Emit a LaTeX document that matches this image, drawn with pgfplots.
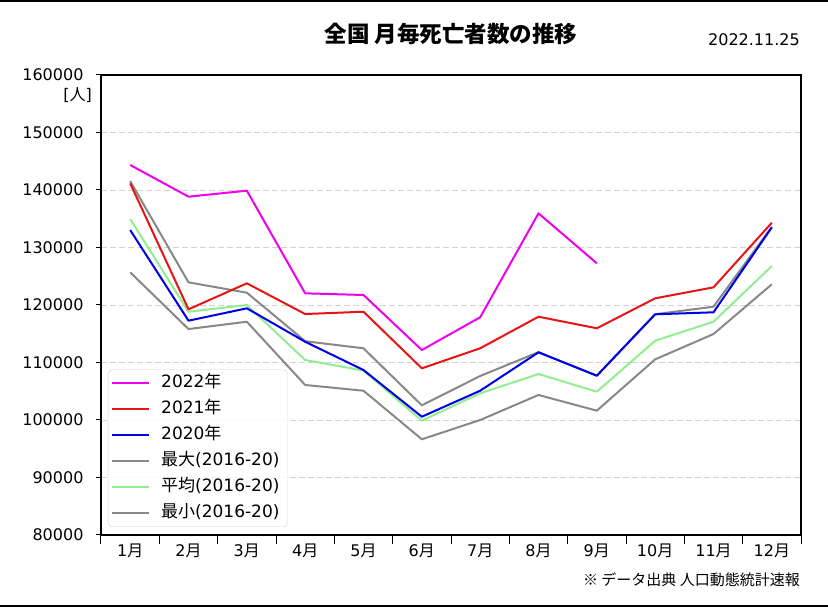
\documentclass[border=0pt]{standalone}
\usepackage{pgfplots}
\pgfplotsset{compat=1.18}
\usepackage{fontspec}
\setmainfont{DejaVu Sans}
\newfontfamily\jp{Noto Sans CJK JP}
\definecolor{cmag}{RGB}{238,0,238}
\definecolor{cred}{RGB}{230,20,20}
\definecolor{cblue}{RGB}{0,0,230}
\definecolor{cgray}{RGB}{136,136,136}
\definecolor{cgreen}{RGB}{144,238,144}
\definecolor{cgrid}{RGB}{210,210,210}
\begin{document}
\begin{tikzpicture}
\path[use as bounding box] (0,0) rectangle (828pt,608pt);
\draw[line width=2pt] (0,607pt) -- (828pt,607pt);
\draw[line width=2pt] (0,1.5pt) -- (828pt,1.5pt);
\begin{axis}[
  at={(101pt,73pt)}, anchor=south west,
  scale only axis, width=700pt, height=460pt,
  xmin=0.5, xmax=12.5, ymin=80000, ymax=160000,
  axis line style={line width=1.3pt},
  xtick={1,...,12},
  xticklabels={1{\jp 月},2{\jp 月},3{\jp 月},4{\jp 月},5{\jp 月},6{\jp 月},7{\jp 月},8{\jp 月},9{\jp 月},10{\jp 月},11{\jp 月},12{\jp 月}},
  minor xtick={0.5,1.5,...,12.5},
  ytick={80000,90000,...,160000},
  tick align=outside,
  x tick style={draw=none},
  minor x tick style={draw=black, line width=1pt},
  minor tick length=9pt,
  y tick style={line width=1pt, black},
  major tick length=5pt,
  xtick pos=bottom, ytick pos=left,
  ymajorgrids, grid style={cgrid, dashed, line width=0.8pt, dash pattern=on 6pt off 3pt},
  /pgf/number format/assume math mode=true,
  /pgf/number format/fixed,
  /pgf/number format/precision=0,
  /pgf/number format/1000 sep={},
  scaled y ticks=false,
  ticklabel style={font=\fontsize{16}{19}\selectfont},
  yticklabel style={xshift=-9pt},
  every tick label/.append style={black},
  legend style={at={(0.01,0.0174)}, anchor=south west, draw=black!18, rounded corners=4pt,
    fill=white, fill opacity=0.85, text opacity=1, font=\fontsize{17}{20}\selectfont,
    inner xsep=3pt, inner ysep=2pt, row sep=3pt,
    nodes={text height=12pt, text depth=3pt, inner ysep=4pt, inner xsep=5pt}},
  legend cell align=left,
  legend image code/.code={\draw[#1, line width=2pt] (0pt,0pt) -- (37pt,0pt); \path (43pt,0pt);},
  reverse legend,
  every axis plot/.append style={line width=2pt, line join=round},
]
\addplot[cgray] coordinates {(1,125680) (2,115820) (3,117090) (4,106090) (5,105090) (6,96640) (7,100000) (8,104350) (9,101620) (10,110550) (11,114950) (12,123600)};
\addlegendentry{{\jp 最小}(2016-20)}
\addplot[cgreen] coordinates {(1,134950) (2,118830) (3,120000) (4,110430) (5,108600) (6,99880) (7,104640) (8,108000) (9,104920) (10,113790) (11,117090) (12,126780)};
\addlegendentry{{\jp 平均}(2016-20)}
\addplot[cgray] coordinates {(1,141560) (2,123940) (3,122140) (4,113700) (5,112470) (6,102550) (7,107650) (8,111800) (9,107700) (10,118400) (11,119700) (12,133600)};
\addlegendentry{{\jp 最大}(2016-20)}
\addplot[cblue] coordinates {(1,133040) (2,117270) (3,119420) (4,113610) (5,108690) (6,100570) (7,105090) (8,111770) (9,107700) (10,118380) (11,118730) (12,133510)};
\addlegendentry{2020{\jp 年}}
\addplot[cred] coordinates {(1,141160) (2,119250) (3,123770) (4,118430) (5,118830) (6,108990) (7,112470) (8,117960) (9,115950) (10,121160) (11,123070) (12,134310)};
\addlegendentry{2021{\jp 年}}
\addplot[cmag] coordinates {(1,144350) (2,138840) (3,139880) (4,122030) (5,121740) (6,112170) (7,117860) (8,135940) (9,127250)};
\addlegendentry{2022{\jp 年}}
\end{axis}
\node[font={\jp\bfseries\fontsize{22.5}{26}\selectfont}] at (451pt,574pt) {全国 月毎死亡者数の推移};
\node[anchor=east, font=\fontsize{16}{19}\selectfont, inner sep=0pt] at (800pt,568pt) {2022.11.25};
\node[anchor=east, font=\fontsize{16}{19}\selectfont, inner sep=0pt] at (92pt,513pt) {[{\jp 人}]};
\node[anchor=east, font={\jp\fontsize{15}{18}\selectfont}, inner sep=0pt] at (800pt,28pt) {※ データ出典 人口動態統計速報};
\end{tikzpicture}
\end{document}
